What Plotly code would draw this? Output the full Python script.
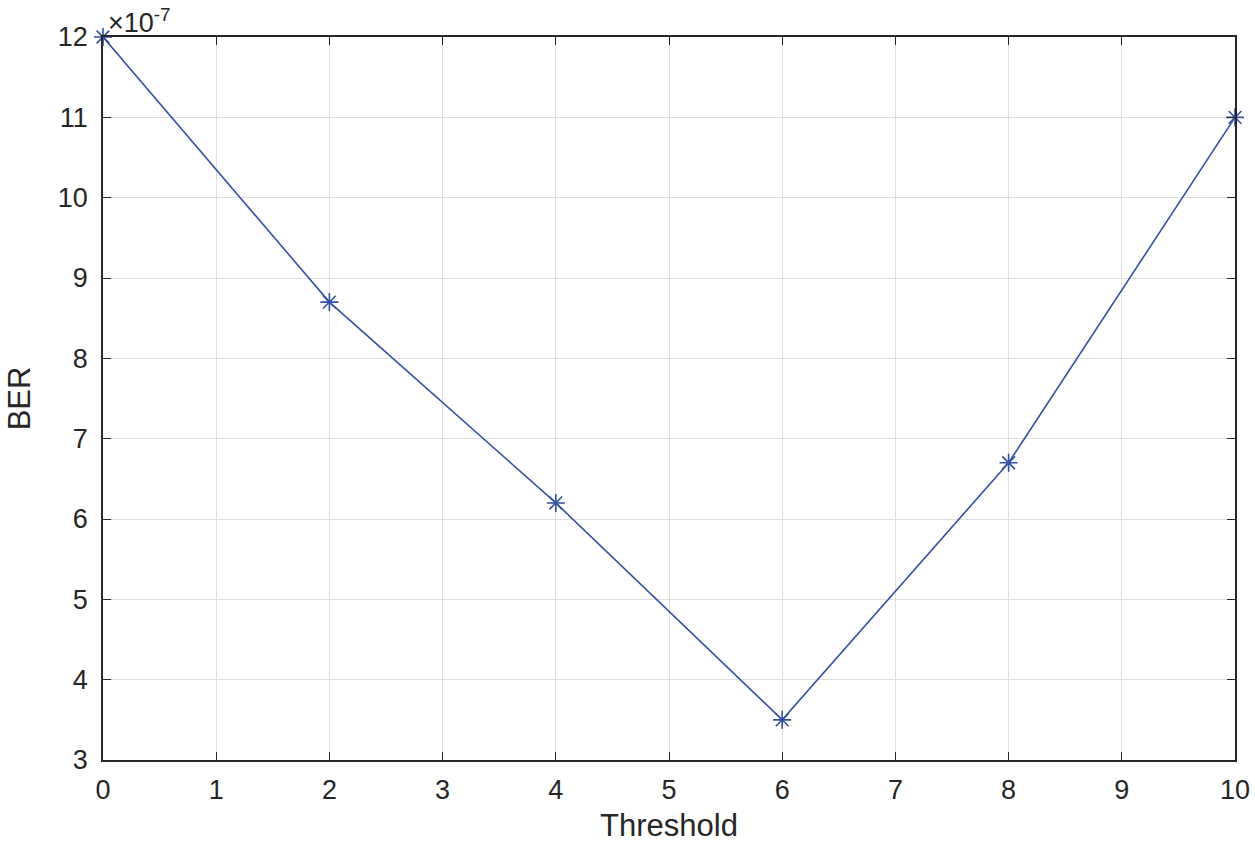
import plotly.graph_objects as go

threshold = [0, 2, 4, 6, 8, 10]
ber_e7 = [12, 8.7, 6.2, 3.5, 6.7, 11]  # BER in units of 1e-7
x_ticks = list(range(0, 11))
y_ticks = list(range(3, 13))

axis_color = "#262626"
grid_color = "#dedede"
line_color = "#3350a3"
font_family = "Liberation Sans, Arial, sans-serif"

fig = go.Figure()
fig.add_trace(go.Scatter(
    x=threshold, y=ber_e7, mode="lines+markers",
    line=dict(color=line_color, width=1.6),
    marker=dict(symbol="asterisk-open", size=15, color=line_color,
                line=dict(color=line_color, width=1.6)),
    cliponaxis=False, showlegend=False,
))

common = dict(
    showline=True, linecolor=axis_color, linewidth=1.5, mirror="ticks",
    ticks="inside", ticklen=8, tickwidth=1.3, tickcolor=axis_color,
    showgrid=True, gridcolor=grid_color, gridwidth=1.3,
    zeroline=False,
    tickfont=dict(family=font_family, size=27, color=axis_color),
)

fig.update_xaxes(range=[0, 10], tickvals=x_ticks, ticktext=[str(v) for v in x_ticks],
                 ticklabelstandoff=5,
                 title=dict(text="Threshold", font=dict(family=font_family, size=31, color=axis_color),
                            standoff=10),
                 **common)
fig.update_yaxes(range=[3, 12], tickvals=y_ticks, ticktext=[str(v) for v in y_ticks],
                 ticklabelstandoff=8,
                 title=dict(text="BER", font=dict(family=font_family, size=31, color=axis_color),
                            standoff=18),
                 **common)

fig.add_annotation(
    x=0, y=1, xref="paper", yref="paper", xanchor="left", yanchor="bottom",
    xshift=3, yshift=-3,
    text="×10<sup>-7</sup>", showarrow=False,
    font=dict(family=font_family, size=27, color=axis_color),
)

fig.update_layout(
    width=1255, height=844,
    margin=dict(l=103, r=20, t=37, b=84, autoexpand=False),
    plot_bgcolor="white", paper_bgcolor="white",
)

fig.write_html("out.html", config={"displayModeBar": False},
               post_script="document.body.style.margin='0';")
